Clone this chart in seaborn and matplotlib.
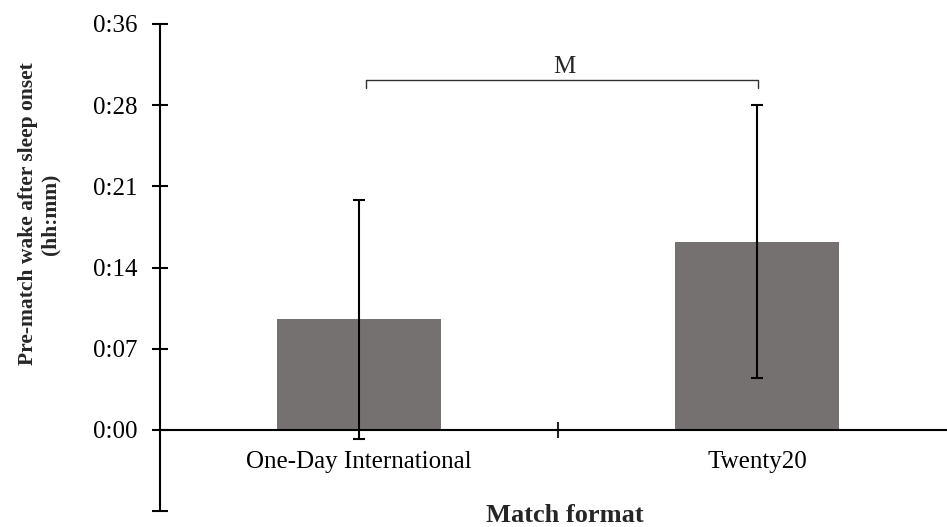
import matplotlib
matplotlib.use("Agg")
import matplotlib.pyplot as plt
import seaborn as sns

# Dados (minutos)
formatos = ["One-Day International", "Twenty20"]
media_min = [9.8, 16.7]
dp_min = [10.6, 12.1]
ticks_min = [-7.2, 0.0, 7.2, 14.4, 21.6, 28.8, 36.0]
signif = "M"

# Estilo
sns.set_style("white")
plt.rcParams["font.family"] = ["Liberation Serif", "DejaVu Serif"]

fig = plt.figure(figsize=(9.47, 5.27), dpi=100)
ax = fig.add_axes([160 / 947, 16 / 527, 796 / 947, 487 / 527])

sns.barplot(x=formatos, y=media_min, color="#767171", width=0.41,
            saturation=1, linewidth=0, ax=ax)
ax.errorbar(x=range(len(formatos)), y=media_min, yerr=dp_min, fmt="none",
            ecolor="black", elinewidth=1.5, capsize=4.3, capthick=1.5, zorder=5)

# Eixos
ax.set_xlim(-0.5, 1.5)
ax.set_ylim(ticks_min[0], ticks_min[-1])
rotulos = ["" if v < 0 else f"{int(v // 60)}:{int(v % 60):02d}" for v in ticks_min]
ax.set_yticks(ticks_min)
ax.set_yticklabels(rotulos)

for lado in ["top", "right"]:
    ax.spines[lado].set_visible(False)
ax.spines["bottom"].set_position(("data", 0))
ax.spines["left"].set_linewidth(1.5)
ax.spines["bottom"].set_linewidth(1.5)
ax.spines["left"].set_color("black")
ax.spines["bottom"].set_color("black")

ax.tick_params(axis="y", direction="inout", length=11, width=1.5,
               pad=11, labelsize=18, left=True, colors="black")
ax.tick_params(axis="x", which="major", length=0, pad=15, labelsize=18,
               colors="black")
ax.set_xticks([0.5], minor=True)
ax.tick_params(axis="x", which="minor", direction="inout", length=11,
               width=1.5, bottom=True)

ax.set_xlabel("Match format", fontsize=19, fontweight="bold")
ax.xaxis.set_label_coords(0.509, -0.01)
ax.xaxis.label.set_va("center")
ax.set_ylabel("Pre-match wake after sleep onset\n(hh:mm)", fontsize=15.5,
              fontweight="bold", linespacing=1.2)
ax.yaxis.set_label_coords(-0.152, 0.61)
ax.yaxis.label.set_va("center")

# Indicação de diferença
ax.plot([0.018, 0.018, 1.002, 1.002], [30.3, 31.0, 31.0, 30.3],
        color="#303030", linewidth=1)
ax.text(0.515, 31.25, signif, ha="center", va="bottom", fontsize=18)

fig.savefig("out.png", dpi=100)
